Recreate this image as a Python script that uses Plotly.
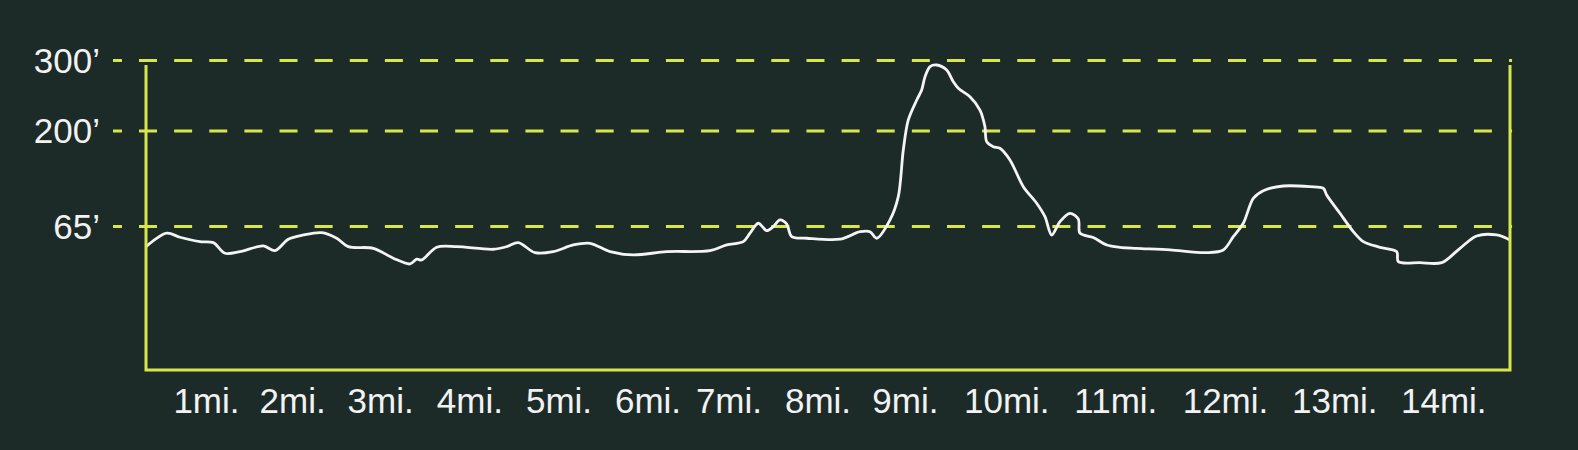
import plotly.graph_objects as go

# ---- data (distance along route in miles, elevation in feet) ----
dist_mi = [0.0, 0.228, 0.374, 0.594, 0.740, 0.869, 1.034, 1.290, 1.419, 1.565,
           1.730, 1.932, 2.097, 2.225, 2.500, 2.720, 2.903, 2.977, 3.032, 3.197,
           3.417, 3.819, 3.967, 4.094, 4.278, 4.479, 4.699, 4.883, 5.103, 5.359,
           5.726, 6.202, 6.386, 6.568, 6.642, 6.733, 6.826, 6.898, 6.972, 7.045,
           7.101, 7.266, 7.632, 7.852, 7.962, 8.035, 8.182, 8.273, 8.328, 8.383,
           8.476, 8.530, 8.567, 8.622, 8.695, 8.805, 8.878, 8.933, 9.061, 9.171,
           9.226, 9.245, 9.318, 9.391, 9.501, 9.648, 9.795, 9.886, 9.960, 10.051,
           10.161, 10.253, 10.271, 10.417, 10.565, 10.711, 10.895, 11.261, 11.665, 11.847,
           11.957, 12.067, 12.177, 12.287, 12.507, 12.800, 12.947, 12.984, 13.130, 13.277,
           13.387, 13.570, 13.754, 13.772, 14.010, 14.249, 14.450, 14.633, 14.853, 15.0]
elev_ft = [36.5, 55.5, 49.8, 43.6, 42.2, 27.2, 29.4, 37.5, 30.8, 47.0,
           53.0, 56.3, 48.4, 36.5, 34.2, 20.1, 12.0, 18.7, 17.7, 35.7,
           36.5, 32.8, 36.5, 42.2, 28.0, 29.4, 38.9, 41.3, 29.4, 24.8,
           29.4, 30.8, 38.9, 43.6, 55.5, 69.6, 59.1, 64.8, 74.3, 68.6,
           50.6, 48.4, 47.0, 57.7, 57.7, 48.4, 74.3, 107.2, 173.3, 215.7,
           244.0, 258.1, 276.9, 291.1, 293.5, 286.4, 269.8, 260.5, 248.6, 229.8,
           206.2, 185.0, 177.9, 175.7, 159.1, 121.4, 97.9, 78.9, 53.0, 72.0,
           83.7, 75.7, 55.5, 49.5, 38.9, 35.6, 34.2, 31.8, 28.0, 31.8,
           50.6, 69.6, 104.9, 115.7, 122.3, 121.4, 119.1, 109.6, 83.7, 57.7,
           43.6, 35.6, 29.4, 15.3, 13.9, 13.9, 34.2, 51.6, 53.0, 46.0]

x_tick_pos = [0.665, 1.612, 2.580, 3.562, 4.542, 5.521, 6.411, 7.390, 8.351,
              9.466, 10.665, 11.871, 13.073, 14.272]
x_tick_labels = ["1mi.", "2mi.", "3mi.", "4mi.", "5mi.", "6mi.", "7mi.", "8mi.",
                 "9mi.", "10mi.", "11mi.", "12mi.", "13mi.", "14mi."]
y_tick_vals = [65, 200, 300]
y_tick_labels = ["65’", "200’", "300’"]

# ---- styling ----
BG = "#1d2b28"
ACCENT = "#d6e64b"
TEXT = "#f2f2f2"
FONT = "Liberation Sans, Arial, Helvetica, sans-serif"
X_RANGE = [0, 15]
Y_RANGE = [-138, 314.7]

fig = go.Figure()
fig.add_trace(go.Scatter(
    x=dist_mi, y=elev_ft, mode="lines",
    line=dict(color="#f4f4f4", width=2.8, shape="spline", smoothing=0.9),
    hoverinfo="skip", showlegend=False,
))

def ypaper(v):
    return (v - Y_RANGE[0]) / (Y_RANGE[1] - Y_RANGE[0])

dash = "9px,17px," + ",".join(["18px,17.13px"] * 42)
shapes = []
for v in y_tick_vals:
    shapes.append(dict(type="line", xref="paper", yref="paper",
                       x0=-0.0242, x1=1.0015, y0=ypaper(v), y1=ypaper(v),
                       line=dict(color=ACCENT, width=3, dash=dash), layer="below"))
top = ypaper(293.5)
shapes.append(dict(type="path", xref="paper", yref="paper",
                   path=f"M 0,{top} L 0,0 L 1,0 L 1,{top}",
                   line=dict(color=ACCENT, width=3)))

fig.update_layout(
    width=1578, height=450, autosize=False,
    paper_bgcolor=BG, plot_bgcolor=BG,
    margin=dict(l=146, r=68, t=50, b=80, pad=0),
    shapes=shapes,
    showlegend=False,
    xaxis=dict(range=X_RANGE, tickvals=x_tick_pos, ticktext=x_tick_labels,
               showgrid=False, zeroline=False, showline=False, ticks="",
               tickfont=dict(family=FONT, size=35, color=TEXT),
               ticklabelstandoff=7, fixedrange=True),
    yaxis=dict(range=Y_RANGE, tickvals=y_tick_vals, ticktext=y_tick_labels,
               showgrid=False, zeroline=False, showline=False, ticks="",
               tickfont=dict(family=FONT, size=35, color=TEXT),
               ticklabelstandoff=45, fixedrange=True),
)

fig.write_html("out.html", config={"displayModeBar": False},
               post_script="document.body.style.margin='0px';document.body.style.background='" + BG + "';")
